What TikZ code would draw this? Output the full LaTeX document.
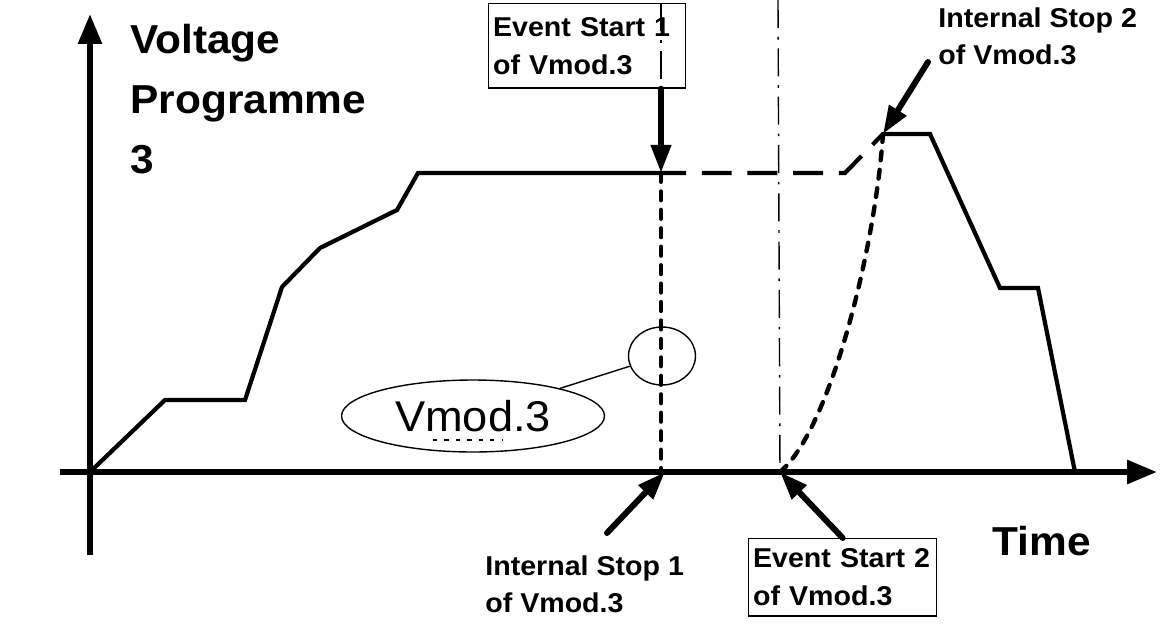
\documentclass[tikz,border=0pt]{standalone}
\usepackage{fontspec}
\setmainfont[FakeStretch=1.05]{Liberation Sans}
\usetikzlibrary{arrows.meta, shapes.geometric, positioning, calc}

\begin{document}
\begin{tikzpicture}[x=0.02cm, y=-0.02cm,
    axis/.style={line width=3.4pt, -{Triangle[length=17pt, width=13pt]}},
    prog/.style={line width=2.4pt, line join=miter},
    pointer/.style={line width=3.4pt, line cap=round, -{Triangle[length=16pt, width=11pt]}},
    lbl/.style={font=\bfseries\fontsize{15.5}{21.5}\selectfont, align=left, inner sep=0pt},
    tagbox/.style={lbl, draw, line width=0.8pt, anchor=north west, inner xsep=2.5pt},
    marker/.style={line width=2.5pt, line cap=round, dash pattern=on 5pt off 5.5pt},
    cursor/.style={line width=0.8pt, dash pattern=on 16pt off 5pt on 1.5pt off 5pt}]
  \useasboundingbox (0,0) rectangle (1161,629);

  \coordinate (O) at (90,472);
  \coordinate (xstart) at (60,472);
  \coordinate (xend) at (1157,472);
  \coordinate (ystart) at (90,555);
  \coordinate (yend) at (90,14);
  \coordinate (es1tip) at (661,173);
  \coordinate (is1tip) at (665,472);
  \coordinate (is1tail) at (607,533);
  \coordinate (es2tip) at (780,472);
  \coordinate (is2tip) at (883,134);
  \coordinate (is2tail) at (928,62);
  \coordinate (c2top) at (778,0);

  \node[tagbox, text width=107pt, minimum height=48pt] (es1) at (488,3) {Event Start 1\\of Vmod.3};
  \node[tagbox, text width=102pt, minimum height=44pt] (es2) at (748,538) {Event Start 2\\of Vmod.3};
  \node[lbl, anchor=north west] (is1) at (485,555) {Internal Stop 1\\of Vmod.3};
  \node[lbl, anchor=north west] (is2) at (938,7) {Internal Stop 2\\of Vmod.3};
  \node[lbl, font=\bfseries\fontsize{23}{34}\selectfont, anchor=north west] (ylab) at (130,24) {Voltage\\Programme\\3};
  \node[font=\bfseries\fontsize{23}{26}\selectfont, anchor=base west, inner sep=0pt] (time) at (992,555) {Time};

  \draw[cursor] (c2top) -- (es2tip);
  \draw[cursor] (es1.north -| es1tip) -- (es1.south -| es1tip);

  \draw[prog] (O) -- (165,400) -- (245,400) -- (282,287) -- (320,248) -- (397,210) -- (418,173) -- (686,173);
  \draw[prog, dash pattern=on 17pt off 9pt, dash phase=17pt] (686,173) -- (845,173) -- (is2tip);
  \draw[prog] (is2tip) -- (930,134) -- (1000,288) -- (1038,288) -- (1075,472);
  \draw[marker] (es1tip) -- (is1tip -| es1tip);
  \draw[marker] (es2tip) .. controls (830,430) and (875,250) .. (is2tip);

  \node[ellipse, draw, line width=0.8pt, minimum width=5.26cm, minimum height=1.44cm,
        font=\fontsize{24.5}{28}\selectfont] (vmod) at (473,416) {Vmod.3};
  \draw[line width=0.6pt, dash pattern=on 2.5pt off 4pt] (433,440) -- (502,440);
  \node[ellipse, draw, line width=0.8pt, minimum width=1.34cm, minimum height=1.16cm] (lens) at (662,356) {};
  \draw[line width=0.8pt] (vmod) -- (lens);

  \draw[axis] (xstart) -- (xend);
  \draw[axis] (ystart) -- (yend);

  \draw[pointer] (es1.south -| es1tip) -- (es1tip);
  \draw[pointer] (is1tail) -- (is1tip);
  \draw[pointer] (es2.north) -- (es2tip);
  \draw[pointer] (is2tail) -- (is2tip);
\end{tikzpicture}
\end{document}
